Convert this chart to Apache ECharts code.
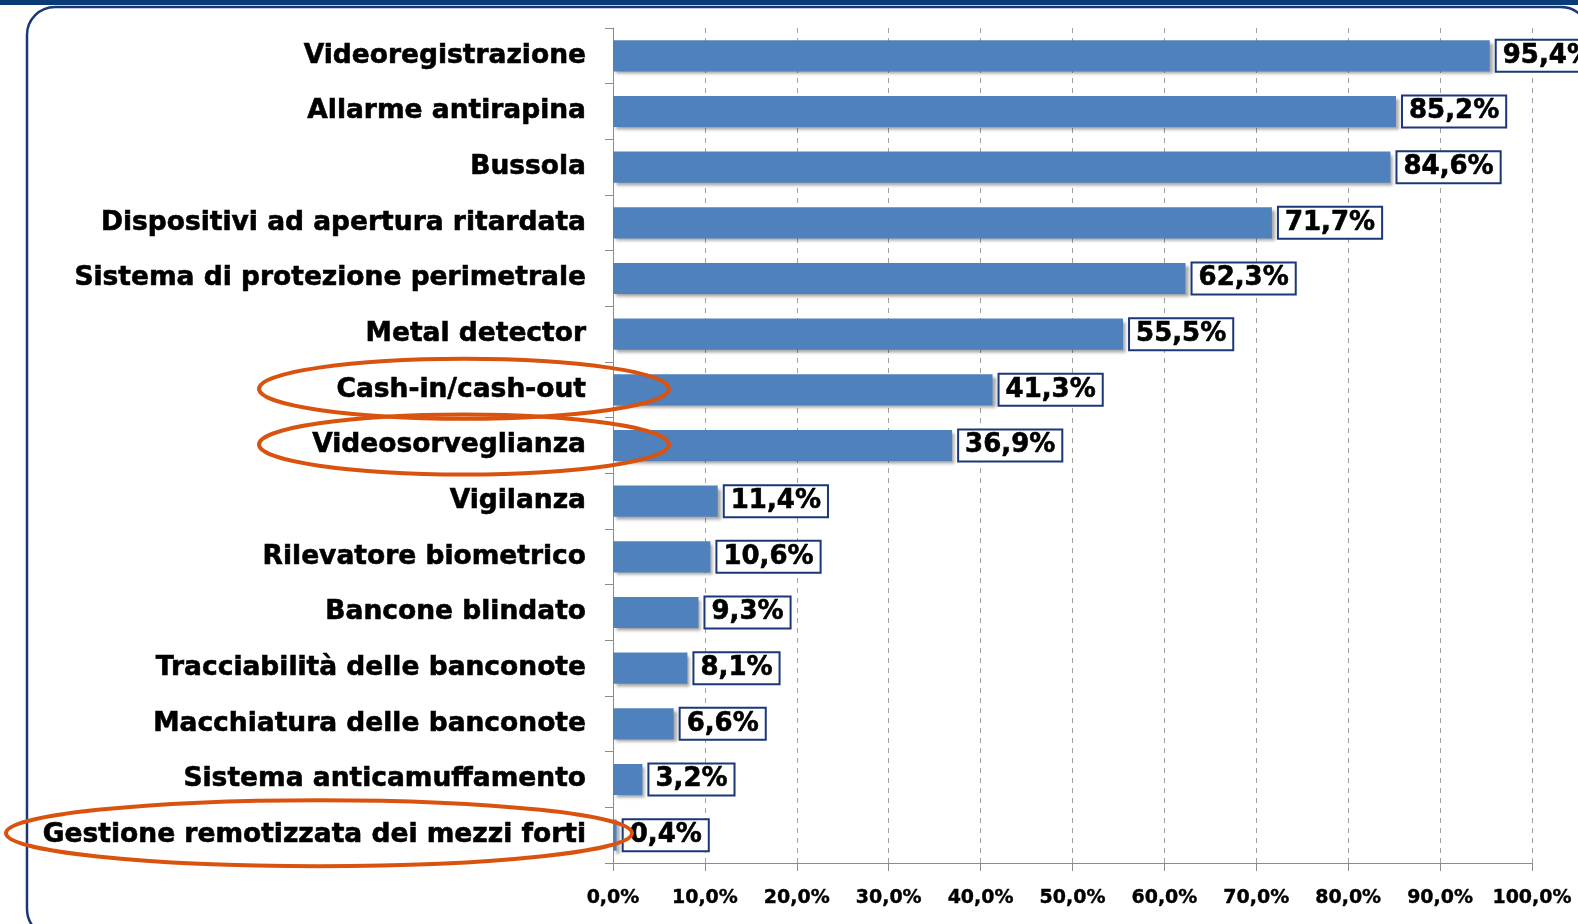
<!DOCTYPE html>
<html>
<head>
<meta charset="utf-8">
<title>Dotazioni di sicurezza</title>
<script src="https://cdn.jsdelivr.net/npm/echarts@6/dist/echarts.min.js"></script>
<style>
  html, body { margin: 0; padding: 0; background: #fff; }
  #chart { width: 1578px; height: 924px; }
</style>
</head>
<body>
<div id="chart"></div>
<script>
// categorie, dall'alto verso il basso
const categories = [
  'Videoregistrazione',
  'Allarme antirapina',
  'Bussola',
  'Dispositivi ad apertura ritardata',
  'Sistema di protezione perimetrale',
  'Metal detector',
  'Cash-in/cash-out',
  'Videosorveglianza',
  'Vigilanza',
  'Rilevatore biometrico',
  'Bancone blindato',
  'Tracciabilità delle banconote',
  'Macchiatura delle banconote',
  'Sistema anticamuffamento',
  'Gestione remotizzata dei mezzi forti'
];
const values = [95.4, 85.2, 84.6, 71.7, 62.3, 55.5, 41.3, 36.9, 11.4, 10.6, 9.3, 8.1, 6.6, 3.2, 0.4];
// categorie evidenziate con l'ellisse rossa
const highlighted = ['Cash-in/cash-out', 'Videosorveglianza', 'Gestione remotizzata dei mezzi forti'];

const FONT = '"DejaVu Sans", Verdana, sans-serif';
const NAVY = '#1b3778';
const pct = (v) => v.toFixed(1).replace('.', ',') + '%';

const chart = echarts.init(document.getElementById('chart'));

const option = {
  animation: false,
  grid: { left: 613, right: 46, top: 28, bottom: 61 },
  xAxis: {
    type: 'value',
    min: 0,
    max: 100,
    interval: 10,
    axisLine: { show: true, lineStyle: { color: '#8c8c8c', width: 1 } },
    axisTick: { show: true, length: 8, lineStyle: { color: '#8c8c8c' } },
    axisLabel: {
      formatter: (v) => pct(v),
      margin: 26,
      color: '#000',
      fontFamily: FONT,
      fontWeight: 'bold',
      fontSize: 19,
      textBorderColor: '#000',
      textBorderWidth: 0.4
    },
    splitLine: { show: true, lineStyle: { color: '#a0a0a0', type: [5, 5], width: 1 } }
  },
  yAxis: {
    type: 'category',
    inverse: true,
    data: categories,
    axisLine: { show: true, lineStyle: { color: '#8c8c8c', width: 1 } },
    axisTick: { show: true, length: 8, alignWithLabel: false, lineStyle: { color: '#8c8c8c' } },
    axisLabel: {
      margin: 27,
      color: '#000',
      fontFamily: FONT,
      fontWeight: 'bold',
      fontSize: 26.5,
      textBorderColor: '#000',
      textBorderWidth: 0.6
    }
  },
  series: [{
    type: 'bar',
    data: values,
    barCategoryGap: '44%',
    itemStyle: {
      color: '#4f81bd',
      shadowColor: 'rgba(0,0,0,0.35)',
      shadowBlur: 3,
      shadowOffsetX: 3,
      shadowOffsetY: 3
    },
    label: {
      show: true,
      position: 'right',
      distance: 7,
      formatter: (p) => pct(p.value),
      color: '#000',
      fontFamily: FONT,
      fontWeight: 'bold',
      fontSize: 26,
      lineHeight: 26,
      textBorderColor: '#000',
      textBorderWidth: 0.6,
      backgroundColor: '#fff',
      borderColor: NAVY,
      borderWidth: 2,
      padding: [3, 6, 1, 6]
    }
  }]
};

chart.setOption(option);

// cornice e fascia superiore, poi le ellissi ancorate alle categorie
function drawDecorations() {
  const ellipses = highlighted.map((name) => {
    const y = chart.convertToPixel({ yAxisIndex: 0 }, name);
    const isLong = name.length > 25;
    return {
      type: 'ellipse',
      shape: isLong
        ? { cx: 319, cy: y - 2, rx: 313, ry: 33 }
        : { cx: 464, cy: y - 1, rx: 205, ry: 30 },
      style: { fill: 'none', stroke: '#d9530f', lineWidth: 4 },
      z: 100
    };
  });
  chart.setOption({
    graphic: [
      {
        type: 'rect',
        shape: { x: 0, y: 0, width: 1578, height: 5 },
        style: { fill: '#093b76' },
        z: 0
      },
      {
        type: 'rect',
        shape: { x: 27, y: 7, width: 1562, height: 930, r: 28 },
        style: { fill: 'none', stroke: NAVY, lineWidth: 2.5 },
        z: 0
      }
    ].concat(ellipses)
  });
}
drawDecorations();
</script>
</body>
</html>
